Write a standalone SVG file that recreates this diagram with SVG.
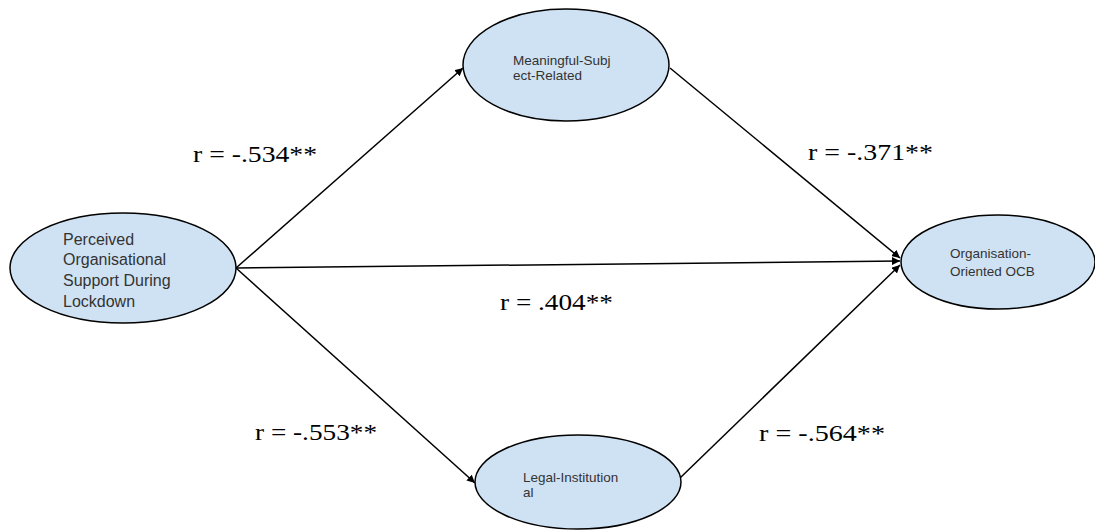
<svg xmlns="http://www.w3.org/2000/svg" width="1095" height="531" viewBox="0 0 1095 531">
<style>
.node ellipse{fill:#cfe2f3;stroke:#000;stroke-width:1.5}
.nt{font-family:"Liberation Sans",Arial,sans-serif;fill:#333;font-size:13.5px}
.big{font-size:16px}
.conn line{stroke:#000;stroke-width:1.5;fill:none}
.lbl{font-family:"Liberation Serif","Times New Roman",serif;font-size:23px;fill:#000}
</style>
<defs>
<marker id="ah" viewBox="0 0 10 10" refX="10" refY="5" markerWidth="8" markerHeight="8" markerUnits="userSpaceOnUse" orient="auto">
<path d="M0,0 L10,5 L0,10 z" fill="#000"/>
</marker>
</defs>
<rect width="1095" height="531" fill="#fff"/>
<g id="connectors" class="conn">
<line x1="236" y1="268" x2="463" y2="68" marker-end="url(#ah)"/>
<line x1="236" y1="268" x2="900" y2="261" marker-end="url(#ah)"/>
<line x1="236" y1="268" x2="475" y2="483" marker-end="url(#ah)"/>
<line x1="670" y1="68" x2="900" y2="258" marker-end="url(#ah)"/>
<line x1="680" y1="478" x2="900" y2="265" marker-end="url(#ah)"/>
</g>
<g id="n-pos" class="node">
<ellipse cx="123" cy="268" rx="113" ry="55"/>
<text class="nt big"><tspan x="63" y="245">Perceived</tspan><tspan x="63" y="265">Organisational</tspan><tspan x="63" y="286">Support During</tspan><tspan x="63" y="307">Lockdown</tspan></text>
</g>
<g id="n-msr" class="node">
<ellipse cx="566" cy="65" rx="103" ry="56"/>
<text class="nt"><tspan x="513" y="65">Meaningful-Subj</tspan><tspan x="513" y="80">ect-Related</tspan></text>
</g>
<g id="n-li" class="node">
<ellipse cx="578" cy="482" rx="103" ry="47"/>
<text class="nt"><tspan x="523" y="482">Legal-Institution</tspan><tspan x="523" y="497">al</tspan></text>
</g>
<g id="n-ocb" class="node">
<ellipse cx="998" cy="262" rx="97" ry="47"/>
<text class="nt"><tspan x="950" y="258">Organisation-</tspan><tspan x="950" y="276">Oriented OCB</tspan></text>
</g>
<g id="labels">
<text class="lbl" x="193" y="162" textLength="124" lengthAdjust="spacingAndGlyphs">r = -.534**</text>
<text class="lbl" x="808" y="160" textLength="125" lengthAdjust="spacingAndGlyphs">r = -.371**</text>
<text class="lbl" x="500" y="310" textLength="113" lengthAdjust="spacingAndGlyphs">r = .404**</text>
<text class="lbl" x="255" y="440" textLength="122" lengthAdjust="spacingAndGlyphs">r = -.553**</text>
<text class="lbl" x="759" y="441" textLength="126" lengthAdjust="spacingAndGlyphs">r = -.564**</text>
</g>
</svg>
